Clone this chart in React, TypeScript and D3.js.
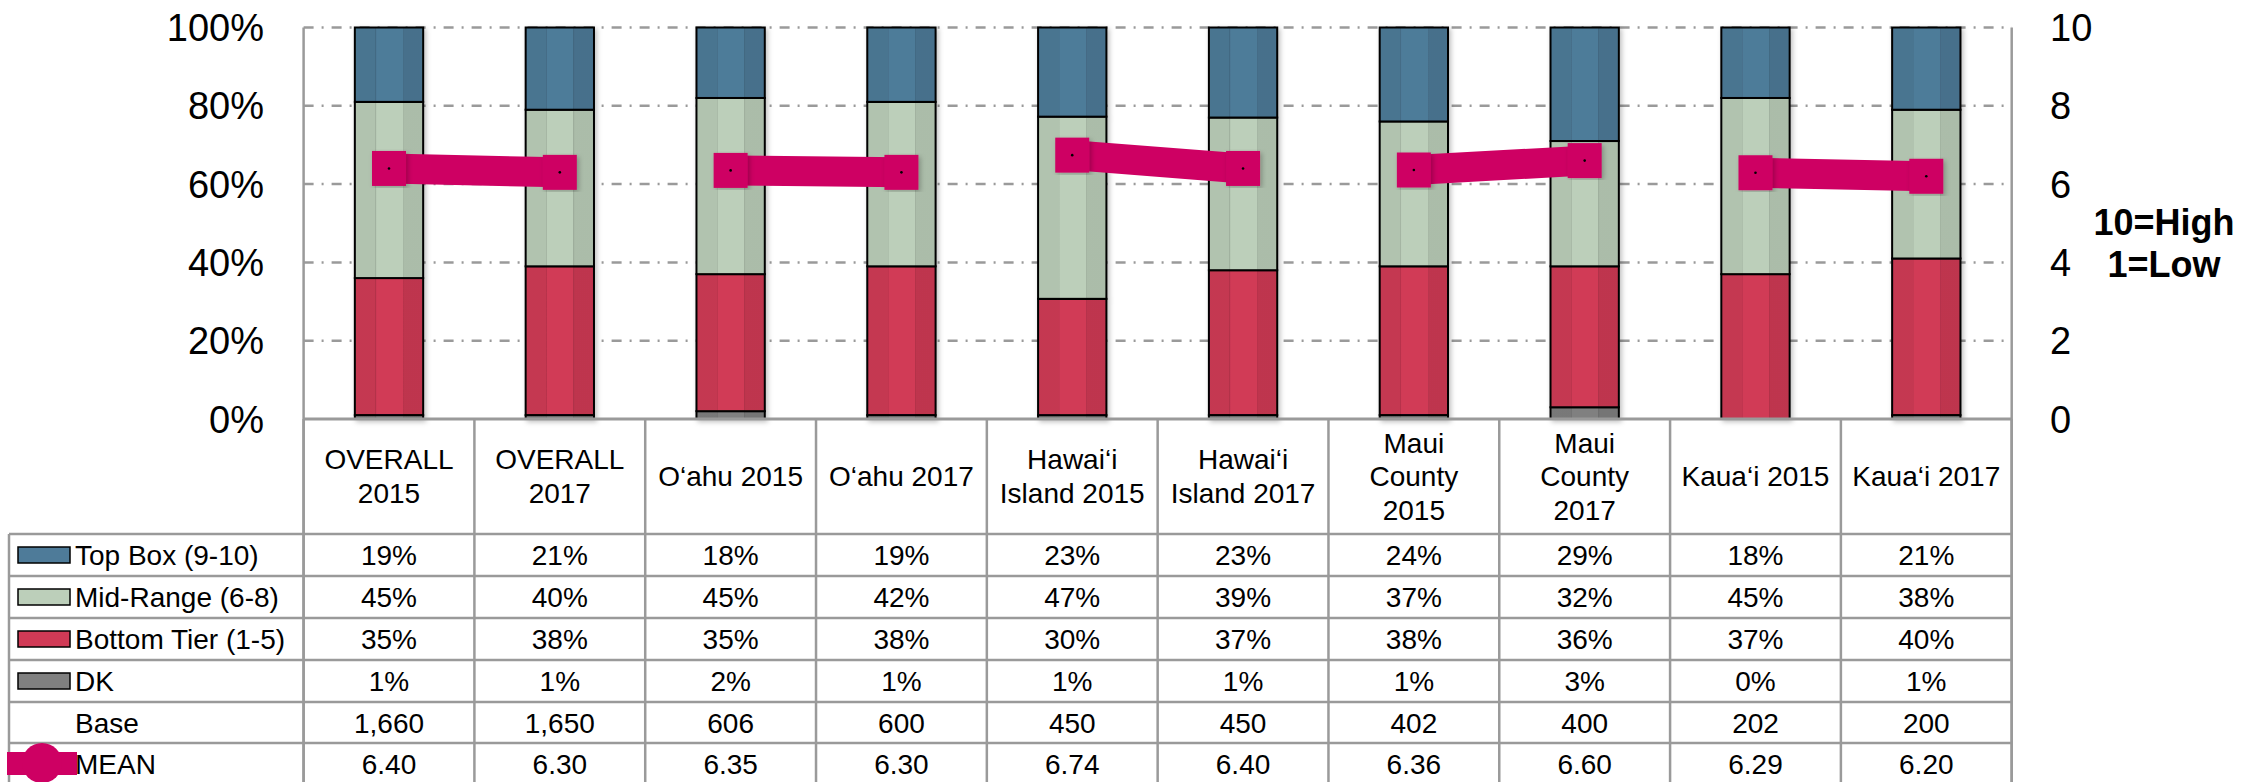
import * as d3 from 'd3';
import React from 'react';

// chart data
const categories = [
  "OVERALL\n2015", "OVERALL\n2017", "O‘ahu 2015", "O‘ahu 2017",
  "Hawai‘i\nIsland 2015", "Hawai‘i\nIsland 2017",
  "Maui\nCounty\n2015", "Maui\nCounty\n2017", "Kaua‘i 2015", "Kaua‘i 2017",
];
const topBox = [19, 21, 18, 19, 23, 23, 24, 29, 18, 21];
const midRange = [45, 40, 45, 42, 47, 39, 37, 32, 45, 38];
const bottomTier = [35, 38, 35, 38, 30, 37, 38, 36, 37, 40];
const dk = [1, 1, 2, 1, 1, 1, 1, 3, 0, 1];
const base = [1660, 1650, 606, 600, 450, 450, 402, 400, 202, 200];
const mean = [6.40, 6.30, 6.35, 6.30, 6.74, 6.40, 6.36, 6.60, 6.29, 6.20];
const meanPairs = [[0, 1], [2, 3], [4, 5], [6, 7], [8, 9]];
const leftTicks = [0, 20, 40, 60, 80, 100];
const rightTicks = [0, 2, 4, 6, 8, 10];

const series = [
  { key: "dk", label: "DK", values: dk, color: "#808080" },
  { key: "bottom", label: "Bottom Tier (1-5)", values: bottomTier, color: "#D13A56" },
  { key: "mid", label: "Mid-Range (6-8)", values: midRange, color: "#BCCFBA" },
  { key: "top", label: "Top Box (9-10)", values: topBox, color: "#4E7B99" },
];

const PINK = "#CE0063";
const FONT = "'Liberation Sans', Arial, sans-serif";
const GRID = "#9a9a9a";

export default function App() {
  const W = 2267, H = 782;
  const left = 303.6, right = 2011.7, top = 27.5, bottom = 419;
  const tableLeft = 9;
  const rowLines = [534, 576, 618, 660, 702, 743, 785];

  const x = d3.scaleBand<number>()
    .domain(d3.range(categories.length))
    .range([left, right]);
  const y = d3.scaleLinear().domain([0, 1]).range([bottom, top]);
  const yPct = d3.scaleLinear().domain([0, 100]).range([bottom, top]);
  const yMean = d3.scaleLinear().domain([0, 10]).range([bottom, top]);

  const rows = categories.map((c, i) => {
    const r: any = { i };
    series.forEach(s => { r[s.key] = s.values[i]; });
    return r;
  });
  const stacked = d3.stack().keys(series.map(s => s.key)).offset(d3.stackOffsetExpand)(rows);

  const bw = x.bandwidth() * 0.4;
  const cx = (i: number) => (x(i) as number) + x.bandwidth() / 2;
  const fmt = d3.format(",");

  // table rows, top to bottom
  const tableRows = [
    { label: "Top Box (9-10)", color: "#4E7B99", cells: topBox.map(v => v + "%") },
    { label: "Mid-Range (6-8)", color: "#BCCFBA", cells: midRange.map(v => v + "%") },
    { label: "Bottom Tier (1-5)", color: "#D13A56", cells: bottomTier.map(v => v + "%") },
    { label: "DK", color: "#808080", cells: dk.map(v => v + "%") },
    { label: "Base", color: null, cells: base.map(v => fmt(v)) },
    { label: "MEAN", color: "mean", cells: mean.map(v => v.toFixed(2)) },
  ];

  return (
    <svg width={W} height={H} style={{ position: "absolute", left: 0, top: 0, fontFamily: FONT }}>
      <defs>
        <filter id="shadow" x="-20%" y="-5%" width="140%" height="110%">
          <feDropShadow dx="2" dy="2" stdDeviation="2.5" floodColor="#000" floodOpacity="0.25" />
        </filter>
        <linearGradient id="cyl" x1="0" x2="1" y1="0" y2="0">
          <stop offset="0" stopColor="#000" stopOpacity="0.06" />
          <stop offset="0.30" stopColor="#000" stopOpacity="0.06" />
          <stop offset="0.30" stopColor="#000" stopOpacity="0.16" />
          <stop offset="0.32" stopColor="#000" stopOpacity="0" />
          <stop offset="0.70" stopColor="#000" stopOpacity="0" />
          <stop offset="0.70" stopColor="#000" stopOpacity="0.16" />
          <stop offset="0.72" stopColor="#000" stopOpacity="0.09" />
          <stop offset="1" stopColor="#000" stopOpacity="0.09" />
        </linearGradient>
      </defs>

      {/* gridlines */}
      {leftTicks.filter(t => t > 0).map(t => (
        <line key={t} x1={left} x2={right} y1={yPct(t)} y2={yPct(t)}
          stroke={GRID} strokeWidth={2.5} strokeDasharray="10,8,2,8" />
      ))}

      {/* left axis labels */}
      {leftTicks.map(t => (
        <text key={t} x={264} y={yPct(t) + 13.5} textAnchor="end" fontSize={38}>{t}%</text>
      ))}
      {/* right axis labels */}
      {rightTicks.map(t => (
        <text key={t} x={2050} y={yMean(t) + 13.5} fontSize={38}>{t}</text>
      ))}
      <text x={2164} y={235} textAnchor="middle" fontSize={36} fontWeight="bold">10=High</text>
      <text x={2164} y={277} textAnchor="middle" fontSize={36} fontWeight="bold">1=Low</text>

      {/* bars */}
      {categories.map((c, i) => (
        <g key={i} filter="url(#shadow)">
          {stacked.map((layer, k) => {
            const d = layer[i];
            const h = y(d[0]) - y(d[1]);
            if (h <= 0) return null;
            return (
              <g key={k}>
                <rect x={cx(i) - bw / 2} y={y(d[1])} width={bw} height={h}
                  fill={series[k].color} />
                <rect x={cx(i) - bw / 2} y={y(d[1])} width={bw} height={h}
                  fill="url(#cyl)" stroke="#000" strokeWidth={2} />
              </g>
            );
          })}
        </g>
      ))}

      {/* axis frame */}
      <line x1={left} x2={left} y1={top} y2={H} stroke={GRID} strokeWidth={2.5} />
      <line x1={right} x2={right} y1={top} y2={H} stroke={GRID} strokeWidth={2.5} />
      <line x1={left} x2={right} y1={bottom} y2={bottom} stroke={GRID} strokeWidth={3} />

      {/* mean lines */}
      {meanPairs.map(([a, b]) => (
        <line key={a} x1={cx(a)} x2={cx(b)} y1={yMean(mean[a])} y2={yMean(mean[b])}
          stroke={PINK} strokeWidth={30} />
      ))}
      {mean.map((m, i) => (
        <g key={i}>
          <rect x={cx(i) - 17} y={yMean(m) - 17.5} width={34} height={35} fill={PINK}
            filter="url(#shadow)" />
          <circle cx={cx(i)} cy={yMean(m)} r={1.3} fill="#000" />
        </g>
      ))}

      {/* table grid */}
      {d3.range(categories.length + 1).map(j => {
        const xx = j === categories.length ? right : (x(j) as number);
        return <line key={j} x1={xx} x2={xx} y1={bottom} y2={H} stroke={GRID} strokeWidth={2.5} />;
      })}
      <line x1={tableLeft} x2={tableLeft} y1={rowLines[0]} y2={H} stroke={GRID} strokeWidth={2.5} />
      {rowLines.slice(0, -1).map(r => (
        <line key={r} x1={tableLeft} x2={right} y1={r} y2={r} stroke={GRID} strokeWidth={2.5} />
      ))}

      {/* header labels */}
      {categories.map((c, i) => {
        const lines = c.split("\n");
        return (
          <text key={i} textAnchor="middle" fontSize={28}>
            {lines.map((ln, k) => (
              <tspan key={k} x={cx(i)} y={486 + (k - (lines.length - 1) / 2) * 33.5}>{ln}</tspan>
            ))}
          </text>
        );
      })}

      {/* table rows */}
      {tableRows.map((r, k) => {
        const y0 = rowLines[k], y1 = rowLines[k + 1] ?? y0 + 42;
        const mid = (y0 + y1) / 2;
        return (
          <g key={k}>
            {r.color === "mean" ? (
              <g>
                <rect x={7} y={752} width={70} height={23} fill={PINK} />
                <circle cx={42} cy={763} r={20} fill={PINK} />
              </g>
            ) : r.color ? (
              <rect x={18} y={mid - 8} width={52} height={16} fill={r.color}
                stroke="#000" strokeWidth={1.5} />
            ) : null}
            <text x={75} y={mid + 10} fontSize={28}>{r.label}</text>
            {r.cells.map((v, i) => (
              <text key={i} x={cx(i)} y={mid + 10} textAnchor="middle" fontSize={28}>{v}</text>
            ))}
          </g>
        );
      })}
    </svg>
  );
}
